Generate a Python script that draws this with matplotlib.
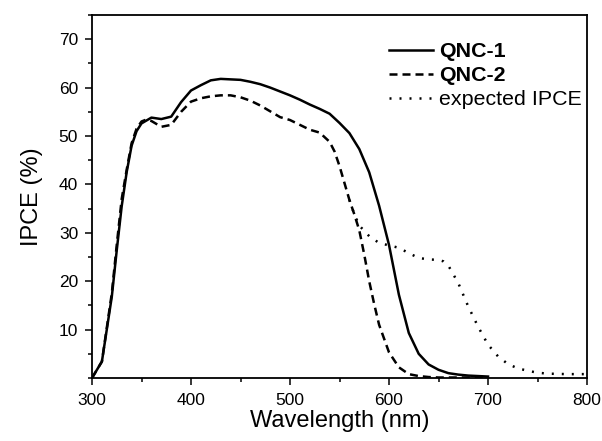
import matplotlib
matplotlib.use("Agg")
import matplotlib.pyplot as plt
from matplotlib.ticker import MultipleLocator

plt.rcParams['font.family'] = ['Liberation Sans', 'DejaVu Sans']

wl_qnc1 = [300, 310, 320, 325, 330, 335, 340, 345, 350, 360, 370, 380, 390, 400, 410, 420,
           430, 440, 450, 460, 470, 480, 490, 500, 510, 520, 530, 540, 550, 560, 570,
           580, 590, 600, 610, 620, 630, 640, 650, 660, 670, 680, 690, 700]
ipce_qnc1 = [0, 3.4, 16.8, 26.4, 35.5, 42.5, 48.0, 51.0, 52.6, 53.8, 53.5, 54.0, 57.0, 59.4,
             60.5, 61.5, 61.8, 61.7, 61.6, 61.2, 60.7, 60.0, 59.2, 58.4, 57.5, 56.5, 55.6,
             54.6, 52.7, 50.6, 47.3, 42.5, 35.6, 27.5, 17.2, 9.3, 5.0, 2.8, 1.7, 1.0, 0.7,
             0.5, 0.4, 0.3]

wl_qnc2 = [300, 310, 320, 325, 330, 335, 340, 345, 350, 355, 360, 370, 380, 390, 400, 410,
           420, 430, 440, 450, 460, 470, 480, 490, 500, 510, 520, 530, 540, 545, 550, 555,
           560, 565, 570, 575, 580, 585, 590, 600, 610, 620, 630, 640, 650, 700]
ipce_qnc2 = [0, 3.4, 17.5, 27.5, 37.0, 43.0, 48.5, 51.5, 53.0, 53.4, 53.1, 51.9, 52.3, 55.0,
             57.1, 57.8, 58.2, 58.4, 58.4, 58.0, 57.3, 56.3, 55.1, 53.9, 53.3, 52.3, 51.3,
             50.7, 48.8, 46.8, 43.8, 40.3, 36.8, 33.8, 30.5, 25.5, 20.0, 15.3, 11.0, 5.3,
             2.2, 0.8, 0.4, 0.2, 0.1, 0.1]

wl_exp = [560, 565, 570, 580, 590, 600, 610, 620, 630, 640, 650, 655, 660, 670, 680, 690,
          700, 710, 720, 730, 740, 750, 760, 780, 800]
ipce_exp = [36.8, 33.8, 31.5, 29.3, 27.9, 27.4, 26.9, 25.8, 24.8, 24.5, 24.4, 24.1, 23.2,
            19.6, 14.8, 10.6, 6.9, 4.5, 2.9, 2.0, 1.5, 1.1, 0.9, 0.8, 0.8]

labels = ['QNC-1', 'QNC-2', 'expected IPCE']

fig = plt.figure(figsize=(6.02, 4.41), dpi=100)
ax = fig.add_axes([92/602, 1-378/441, (587-92)/602, (378-15)/441])

ax.plot(wl_qnc1, ipce_qnc1, color='black', lw=1.8, label=labels[0])
ax.plot(wl_qnc2, ipce_qnc2, color='black', lw=1.8, dashes=(3.2, 2.0), label=labels[1])
ax.plot(wl_exp, ipce_exp, color='black', lw=1.8, dashes=(0.8, 3.2), label=labels[2])

ax.set_xlim(300, 800)
ax.set_ylim(0, 75)
ax.xaxis.set_major_locator(MultipleLocator(100))
ax.xaxis.set_minor_locator(MultipleLocator(50))
ax.set_yticks([10, 20, 30, 40, 50, 60, 70])
ax.yaxis.set_minor_locator(MultipleLocator(5))

for s in ax.spines.values():
    s.set_linewidth(1.3)

ax.tick_params(which='major', direction='out', length=5, width=1.1, labelsize=12.5,
               top=False, right=False)
ax.tick_params(which='minor', direction='out', length=2.7, width=1.1, top=False, right=False)
ax.tick_params(axis='x', which='major', pad=6)
ax.tick_params(axis='y', which='major', pad=5)

ax.set_xlabel('Wavelength (nm)', fontsize=17, labelpad=1.5)
ax.set_ylabel('IPCE (%)', fontsize=17, labelpad=11)

leg = ax.legend(loc='upper right', bbox_to_anchor=(0.989, 0.925), frameon=False,
                fontsize=15.4, handlelength=2.1, handletextpad=0.25, labelspacing=0.24,
                borderaxespad=0.0, borderpad=0.0)
for i, t in enumerate(leg.get_texts()):
    if i < 2:
        t.set_fontweight('bold')

fig.savefig('out.png', dpi=100)
